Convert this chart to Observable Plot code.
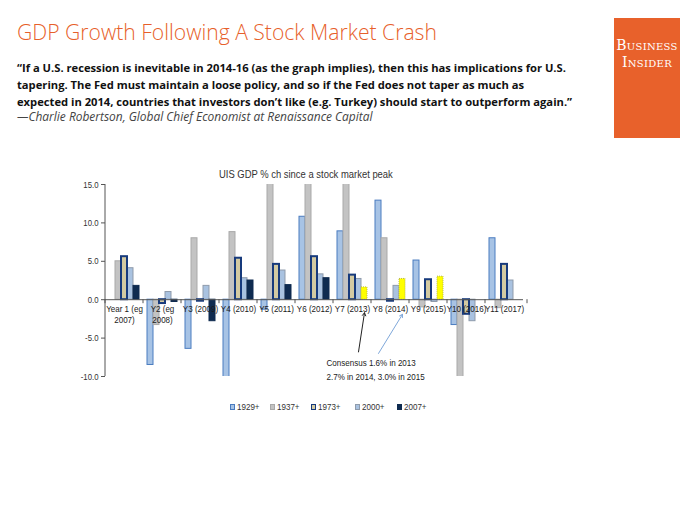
<!DOCTYPE html>
<html><head><meta charset="utf-8">
<script src="https://cdn.jsdelivr.net/npm/d3@7"></script>
<script src="https://cdn.jsdelivr.net/npm/@observablehq/plot@0.6"></script>
<style>
html,body{margin:0;padding:0;background:#fff;}
#page{position:relative;width:700px;height:525px;overflow:hidden;font-family:"Liberation Sans",Arial,sans-serif;}
.abs{position:absolute;white-space:nowrap;}
#title{left:17px;top:18px;line-height:28px;color:#e75f2b;font-family:"Open Sans",sans-serif;font-weight:300;font-size:21px;}
#quote{left:17px;top:59px;line-height:17px;color:#111;font-family:"Open Sans",sans-serif;font-weight:700;font-size:12px;}
#attr{left:17px;top:111px;line-height:11px;color:#444;font-family:"Open Sans",sans-serif;font-style:italic;font-size:11px;}
#bi{left:614px;top:18px;width:66px;height:120px;background:#e8612b;color:#fff;text-align:center;font-family:"DejaVu Serif","Liberation Serif",serif;font-variant:small-caps;font-size:14px;line-height:17px;padding-top:19px;box-sizing:border-box;letter-spacing:0.3px;}
#ctitle{left:219px;top:167px;color:#333;font-size:11.5px;line-height:14px;transform:scaleX(0.82);transform-origin:0 50%;}
#chart{left:0;top:160px;}
#legend{left:0;top:400px;width:700px;height:14px;font-size:9.8px;color:#333;line-height:14px;}
#legend .it{position:absolute;top:0;display:flex;align-items:center;}
#legend .sw{width:5px;height:6px;margin-right:1.5px;box-sizing:border-box;}
#legend span{display:inline-block;transform:scaleX(0.82);transform-origin:0 50%;}
</style></head>
<body><div id="page">
<div id="title" class="abs">GDP Growth Following A Stock Market Crash</div>
<div id="quote" class="abs"><div class="ql">“If a U.S. recession is inevitable in 2014-16 (as the graph implies), then this has implications for U.S.</div><div class="ql">tapering. The Fed must maintain a loose policy, and so if the Fed does not taper as much as</div><div class="ql">expected in 2014, countries that investors don’t like (e.g. Turkey) should start to outperform again.”</div></div>
<div id="attr" class="abs">—Charlie Robertson, Global Chief Economist at Renaissance Capital</div>
<div id="bi" class="abs">Business<br>Insider</div>
<div id="chart" class="abs"></div>
<div id="ctitle" class="abs">UIS GDP % ch since a stock market peak</div>
<div id="legend" class="abs"></div>
</div>
<script>
// ---- data ----
const groups = ["Year 1 (eg\n2007)", "Y2 (eg\n2008)", "Y3 (2009)", "Y4 (2010)", "Y5 (2011)", "Y6 (2012)", "Y7 (2013)", "Y8 (2014)", "Y9 (2015)", "Y10 (2016)", "Y11 (2017)"];
const seriesNames = ["1929+", "1937+", "1973+", "2000+", "2007+"];
const v1929 = [null, -8.5, -6.4, -12.9, -1.3, 10.8, 8.9, 12.9, 5.1, -3.3, 8.0];
const v1937 = [5.0, -3.3, 8.0, 8.8, 17.7, 18.9, 17.0, 8.0, -1.0, -11.6, -1.1];
const v1973 = [5.6, -0.5, -0.2, 5.4, 4.6, 5.6, 3.2, -0.2, 2.6, -1.9, 4.6];
const v2000 = [4.1, 1.0, 1.8, 2.8, 3.8, 3.3, 2.7, 1.8, -0.3, -2.8, 2.5];
const v2007 = [1.8, -0.3, -2.8, 2.5, 1.9, 2.8, 1.6, 2.7, 3.0, null, null];
const forecast2007 = [false, false, false, false, false, false, true, true, true, false, false];
const yTicks = [-10, -5, 0, 5, 10, 15];
const noteText = ["Consensus 1.6% in 2013", "2.7% in 2014, 3.0% in 2015"];

// ---- styles ----
const styles = {
  "1929+": {fill: "#a7c3e5", stroke: "#4a7cc0", sw: 1},
  "1937+": {fill: "#c3c3c3", stroke: "#a9a9a9", sw: 1},
  "1973+": {fill: "#d3caa2", stroke: "#173a7c", sw: 2},
  "2000+": {fill: "#a9c2e0", stroke: "#8f9bab", sw: 1},
  "2007+": {fill: "#0f2b50", stroke: "#0f2b50", sw: 1},
  "forecast": {fill: "#ffff00", stroke: "#b8b84a", sw: 1, dash: "1,1"}
};
const legendLeft = [230, 270, 311, 355, 397];
const NARROW = 0.82;

const values = [v1929, v1937, v1973, v2000, v2007];
const rows = [];
groups.forEach((g, i) => seriesNames.forEach((s, j) => {
  const v = values[j][i];
  if (v != null) rows.push({group: g, series: s, value: v, key: (s === "2007+" && forecast2007[i]) ? "forecast" : s});
}));
const drawOrder = ["1929+", "1937+", "2000+", "2007+", "forecast", "1973+"];
const barMarks = drawOrder.map(k => Plot.barY(rows.filter(d => d.key === k), {
  fx: "group", x: "series", y: "value",
  fill: styles[k].fill, stroke: styles[k].stroke, strokeWidth: styles[k].sw,
  strokeDasharray: styles[k].dash, clip: true
}));

const W = 700, H = 270, ML = 100, MR = 173, MT = 24, MB = 54;
const plot = Plot.plot({
  width: W, height: H, marginLeft: ML, marginRight: MR, marginTop: MT, marginBottom: MB,
  style: {fontFamily: "Liberation Sans, Arial, sans-serif", background: "transparent", overflow: "visible"},
  fx: {domain: groups, padding: 0, axis: null},
  x: {domain: seriesNames, paddingInner: 0, paddingOuter: 0.3, axis: null},
  y: {domain: [-10, 15], axis: null},
  marks: [
    ...barMarks,
    Plot.ruleY([0], {stroke: "#555", strokeWidth: 1}),
    Plot.axisY({ticks: yTicks, tickFormat: d => d.toFixed(1), tickSize: 4, tickPadding: 3, fontSize: 9.5, color: "#333", stroke: "#555", label: null}),
    Plot.text(groups, {fx: d => d, y: d => 0, text: d => d, lineAnchor: "top", dy: 5, fontSize: 9.8, fill: "#1a1a1a", lineHeight: 1.1}),
    Plot.text([noteText.join("\n")], {fx: d => groups[5], x: d => "2007+", y: d => -9.0, text: d => d, textAnchor: "start", lineAnchor: "middle", fontSize: 9.8, fill: "#222", lineHeight: 1.35}),
    Plot.arrow([0], {fx: d => groups[6], x1: d => "2000+", y1: d => -6.8, x2: d => "2007+", y2: d => -1.7, stroke: "#222", strokeWidth: 1, headLength: 5}),
    Plot.arrow([0], {fx: d => groups[7], x1: d => "1929+", y1: d => -7.0, x2: d => "2007+", y2: d => -1.9, stroke: "#7fa8da", strokeWidth: 1, headLength: 5})
  ]
});
document.getElementById("chart").appendChild(plot);

const svg = d3.select(plot);
// narrow (condensed) look for all chart texts, scaled about each text's own anchor
svg.selectAll("text").each(function() {
  const t = this.getAttribute("transform") || "";
  this.setAttribute("transform", t + ` scale(${NARROW},1)`);
});

// axis line and group boundary ticks, placed through the plot's own scales
const fxS = plot.scale("fx"), yS = plot.scale("y");
const bounds = groups.map(g => fxS.apply(g)).concat([fxS.range[1]]);
svg.append("line").attr("x1", bounds[0]).attr("x2", bounds[0])
  .attr("y1", yS.apply(15)).attr("y2", yS.apply(-10)).attr("stroke", "#555");
svg.append("g").selectAll("line").data(bounds).join("line")
  .attr("x1", d => d).attr("x2", d => d)
  .attr("y1", yS.apply(0)).attr("y2", yS.apply(0) + 4).attr("stroke", "#555");

// legend
const leg = d3.select("#legend");
seriesNames.forEach((s, i) => {
  const it = leg.append("div").attr("class", "it").style("left", legendLeft[i] + "px");
  it.append("div").attr("class", "sw").style("background", styles[s].fill).style("border", `1px solid ${styles[s].stroke}`);
  it.append("span").text(s);
});

// fit header text widths to the reference
function fit(el, w) {
  const cur = el.getBoundingClientRect().width;
  const fs = parseFloat(getComputedStyle(el).fontSize);
  el.style.fontSize = (fs * w / cur) + "px";
}
fit(document.getElementById("title"), 420);
const ql = document.querySelectorAll(".ql");
ql[0].style.display = "inline-block";
const cur = ql[0].getBoundingClientRect().width;
document.getElementById("quote").style.fontSize = (12 * 550 / cur) + "px";
fit(document.getElementById("attr"), 356);
fit(document.getElementById("ctitle"), 174);
</script>
</body></html>
